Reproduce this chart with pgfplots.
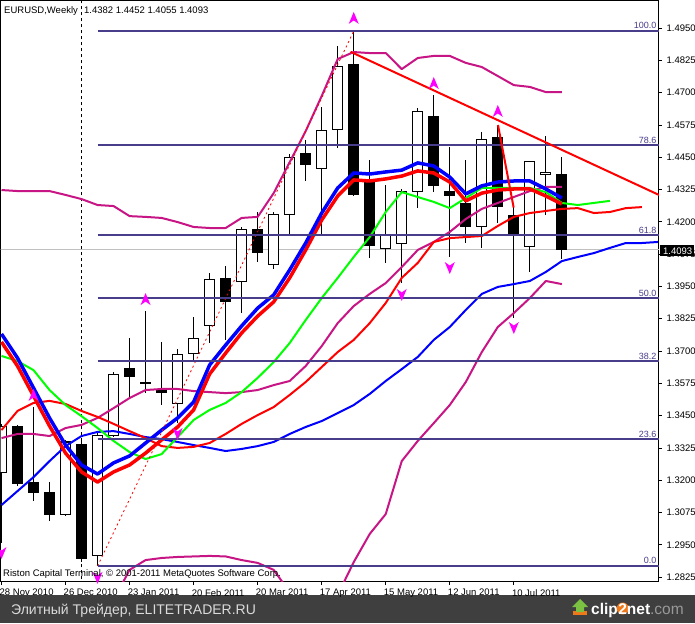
\documentclass[border=0pt]{standalone}
\usepackage{pgfplots}
\pgfplotsset{compat=1.18}
\usepackage{pgfplotstable}
\usepackage{fontspec}
\setmainfont{Liberation Sans}

\definecolor{fibo}{HTML}{483D8B}
\definecolor{band}{HTML}{C71585}
\definecolor{lips}{HTML}{00FF00}
\definecolor{fract}{HTML}{FF00FF}
\definecolor{strip}{HTML}{3F3F3F}
\definecolor{bidgray}{HTML}{C0C0C0}
\definecolor{logoorange}{HTML}{F07818}
\definecolor{logogreen}{HTML}{7CC242}

% fractal arrows
\pgfdeclareplotmark{frup}{%
  \pgfpathmoveto{\pgfpoint{0pt}{6pt}}%
  \pgfpathlineto{\pgfpoint{5pt}{-6pt}}%
  \pgfpathlineto{\pgfpoint{0pt}{-2.5pt}}%
  \pgfpathlineto{\pgfpoint{-5pt}{-6pt}}%
  \pgfpathclose\pgfusepathqfill}
\pgfdeclareplotmark{frdown}{%
  \pgfpathmoveto{\pgfpoint{0pt}{-6pt}}%
  \pgfpathlineto{\pgfpoint{5pt}{6pt}}%
  \pgfpathlineto{\pgfpoint{0pt}{2.5pt}}%
  \pgfpathlineto{\pgfpoint{-5pt}{6pt}}%
  \pgfpathclose\pgfusepathqfill}

% weekly bars, k = 0 is the week of 2 Jan 2011
\pgfplotstableread{
k O H L C
-5 1.3231 1.3418 1.2957 1.3407
-4 1.3407 1.3414 1.3178 1.3186
-3 1.3190 1.3484 1.3121 1.3152
-2 1.3154 1.3193 1.3043 1.3067
-1 1.3067 1.3356 1.3062 1.3348
0 1.3340 1.3363 1.2883 1.2896
1 1.2907 1.3390 1.2868 1.3375
2 1.3372 1.3619 1.3367 1.3611
3 1.3633 1.3752 1.3523 1.3601
4 1.3580 1.3855 1.3536 1.3573
5 1.3552 1.3734 1.3490 1.3539
6 1.3498 1.3708 1.3420 1.3685
7 1.3691 1.3832 1.3657 1.3747
8 1.3798 1.4002 1.3732 1.3978
9 1.3981 1.4028 1.3743 1.3891
10 1.3969 1.4181 1.3848 1.4171
11 1.4171 1.4239 1.4046 1.4080
12 1.4036 1.4239 1.4016 1.4229
13 1.4229 1.4461 1.4149 1.4450
14 1.4466 1.4517 1.4359 1.4423
15 1.4407 1.4643 1.4149 1.4554
16 1.4558 1.4880 1.4487 1.4802
17 1.4807 1.4938 1.4301 1.4305
18 1.4355 1.4439 1.4059 1.4108
19 1.4098 1.4342 1.4042 1.4152
20 1.4117 1.4327 1.3962 1.4319
21 1.4318 1.4639 1.4252 1.4628
22 1.4606 1.4691 1.4317 1.4340
23 1.4319 1.4491 1.4065 1.4301
24 1.4272 1.4439 1.4119 1.4181
25 1.4183 1.4549 1.4098 1.4519
26 1.4528 1.4575 1.4197 1.4259
27 1.4226 1.4259 1.3829 1.4149
28 1.4106 1.4435 1.4007 1.4433
29 1.4384 1.4532 1.4226 1.4392
30 1.4382 1.4452 1.4055 1.4093
}\candles

% indicator lines
\pgfplotstableread{
k bma rma lips teeth jaw mid up lo
-5 1.3766 1.3735 1.3681 1.3394 1.3104 1.3363 1.4323 nan
-4 1.3673 1.3642 1.3661 1.3468 1.3158 1.3379 1.4319 nan
-3 1.3557 1.3526 1.3626 1.3499 1.3212 1.3379 1.4319 nan
-2 1.3441 1.3410 1.3549 1.3507 1.3274 1.3371 1.4319 nan
-1 1.3336 1.3305 1.3491 1.3495 1.3332 1.3402 1.4304 nan
0 1.3259 1.3232 1.3448 1.3468 1.3371 1.3414 1.4288 nan
1 1.3224 1.3193 1.3402 1.3445 1.3387 1.3441 1.4265 nan
2 1.3267 1.3232 1.3352 1.3418 1.3390 1.3479 1.4261 1.2736
3 1.3294 1.3259 1.3309 1.3390 1.3379 1.3518 1.4222 1.2853
4 1.3344 1.3305 1.3282 1.3363 1.3367 1.3549 1.4219 1.2891
5 1.3394 1.3356 1.3301 1.3332 1.3359 1.3553 1.4215 1.2899
6 1.3441 1.3406 1.3367 1.3325 1.3348 1.3553 1.4199 1.2903
7 1.3503 1.3472 1.3433 1.3329 1.3336 1.3545 1.4180 1.2905
8 1.3646 1.3611 1.3472 1.3344 1.3325 1.3541 1.4176 1.2907
9 1.3723 1.3692 1.3499 1.3379 1.3313 1.3537 1.4176 1.2905
10 1.3797 1.3770 1.3541 1.3418 1.3321 1.3541 1.4215 1.2891
11 1.3866 1.3835 1.3596 1.3452 1.3332 1.3549 1.4219 1.2880
12 1.3917 1.3890 1.3657 1.3483 1.3348 1.3568 1.4311 1.2853
13 1.4014 1.3983 1.3731 1.3530 1.3379 1.3584 1.4431 1.2767
14 1.4118 1.4091 1.3820 1.3580 1.3406 1.3642 1.4551 1.2698
15 1.4234 1.4207 1.3905 1.3638 1.3429 1.3719 1.4687 1.2690
16 1.4331 1.4300 1.3983 1.3696 1.3460 1.3808 1.4830 1.2756
17 1.4389 1.4362 1.4064 1.3743 1.3491 1.3874 1.4857 1.2883
18 1.4385 1.4358 1.4141 1.3808 1.3534 1.3921 1.4853 1.2992
19 1.4393 1.4366 1.4238 1.3886 1.3584 1.3963 1.4853 1.3069
20 1.4400 1.4377 1.4315 1.3983 1.3630 1.4025 1.4791 1.3274
21 1.4428 1.4397 1.4296 1.4041 1.3677 1.4091 1.4834 1.3352
22 1.4416 1.4389 1.4277 1.4122 1.3743 1.4122 1.4842 1.3421
23 1.4373 1.4354 1.4253 1.4137 1.3793 1.4161 1.4842 1.3491
24 1.4308 1.4281 1.4292 1.4141 1.3859 1.4211 1.4815 1.3580
25 1.4339 1.4311 1.4331 1.4145 1.3921 1.4250 1.4799 1.3696
26 1.4354 1.4323 1.4331 1.4184 1.3948 1.4273 1.4764 1.3793
27 1.4358 1.4327 1.4331 1.4219 1.3959 1.4296 1.4729 1.3847
28 1.4358 1.4327 1.4331 1.4234 1.3971 1.4319 1.4722 1.3905
29 1.4327 1.4300 1.4315 1.4242 1.4006 1.4335 1.4702 1.3971
30 1.4292 1.4269 1.4273 1.4250 1.4048 1.4335 1.4702 1.3959
31 nan nan 1.4265 1.4253 1.4064 nan nan nan
32 nan nan 1.4273 1.4234 1.4079 nan nan nan
33 nan nan 1.4281 1.4238 1.4099 nan nan nan
34 nan nan nan 1.4253 1.4118 nan nan nan
35 nan nan nan 1.4257 1.4118 nan nan nan
36 nan nan nan nan 1.4122 nan nan nan
}\ind

\pgfplotstableread{
k y
-3 1.3530
4 1.3901
17 1.4989
22 1.4737
26 1.4629
}\fractup

\pgfplotstableread{
k y
-5 1.2918
1 1.2822
6 1.3379
20 1.3917
23 1.4021
27 1.3789
}\fractdown

\begin{document}
\begin{tikzpicture}
\path[use as bounding box] (0,0) rectangle (695pt,623pt);
\fill[white] (0,0) rectangle (695pt,623pt);
\fill[strip] (0,0) rectangle (695pt,28pt);

\begin{axis}[
    at={(0.5pt,41pt)}, anchor=south west,
    scale only axis,
    width=658pt, height=581.5pt,
    xmin=-5.0625, xmax=36.0625,
    ymin=1.28061, ymax=1.50565,
    axis line style={line width=1pt},
    tick align=outside,
    major tick length=3pt,
    tick style={black, line width=0.8pt},
    xtick={-5,-1,3,7,11,15,19,23,27},
    xticklabels={28 Nov 2010,26 Dec 2010,23 Jan 2011,20 Feb 2011,20 Mar 2011,17 Apr 2011,15 May 2011,12 Jun 2011,10 Jul 2011},
    xtick pos=bottom,
    ytick={1.2825,1.2950,1.3075,1.3200,1.3325,1.3450,1.3575,1.3700,1.3825,1.3950,1.4075,1.4200,1.4325,1.4450,1.4575,1.4700,1.4825,1.4950},
    yticklabels={1.2825,1.2950,1.3075,1.3200,1.3325,1.3450,1.3575,1.3700,1.3825,1.3950,1.4075,1.4200,1.4325,1.4450,1.4575,1.4700,1.4825,1.4950},
    ytick pos=right, yticklabel pos=right,
    ticklabel style={font=\fontsize{9.5}{11}\selectfont, inner sep=0pt},
    yticklabel style={anchor=west, xshift=4.5pt},
    xticklabel style={anchor=north west, xshift=-2pt, yshift=-4pt},
    clip=true,
]

% bid line and year separator
\addplot[bidgray, line width=1pt] coordinates {(-6,1.4093) (37,1.4093)};
\addplot[black, line width=1pt, dash pattern=on 3pt off 3pt] coordinates {(0,1.27) (0,1.51)};

% candles: wicks, bodies, white insides
\addplot[draw=none, mark=none, error bars/.cd, y dir=both, y explicit, error mark=none,
    error bar style={draw=black, line width=1pt}]
    table[x=k, y expr={(\thisrow{H}+\thisrow{L})/2}, y error expr={(\thisrow{H}-\thisrow{L})/2}] {\candles};
\addplot[draw=none, mark=none, error bars/.cd, y dir=both, y explicit, error mark=none,
    error bar style={draw=black, line width=11pt}]
    table[x=k, y expr={(\thisrow{O}+\thisrow{C})/2}, y error expr={abs(\thisrow{C}-\thisrow{O})/2+0.0002}] {\candles};
\addplot[draw=none, mark=none, error bars/.cd, y dir=both, y explicit, error mark=none,
    error bar style={draw=white, line width=9pt}]
    table[x=k, y expr={\thisrow{C}>\thisrow{O} ? (\thisrow{O}+\thisrow{C})/2 : 5},
          y error expr={max((\thisrow{C}-\thisrow{O})/2-0.0002,0.00005)}] {\candles};

% indicators
\addplot[band, line width=2pt, line join=round] table[x=k, y=lo] {\ind};
\addplot[band, line width=2pt, line join=round] table[x=k, y=up] {\ind};
\addplot[band, line width=2pt, line join=round] table[x=k, y=mid] {\ind};
\addplot[blue, line width=2pt, line join=round] table[x=k, y=jaw] {\ind};
\addplot[red, line width=2pt, line join=round] table[x=k, y=teeth] {\ind};
\addplot[lips, line width=2pt, line join=round] table[x=k, y=lips] {\ind};
\addplot[red, line width=3.5pt, line join=round] table[x=k, y=rma] {\ind};
\addplot[blue, line width=3.5pt, line join=round] table[x=k, y=bma] {\ind};

% fibonacci retracement
\addplot[red, line width=0.8pt, dash pattern=on 2pt off 3pt] coordinates {(1,1.2868) (17,1.4938)};
\addplot[fibo, line width=2pt] coordinates {(1,1.4940) (37,1.4940)};
\addplot[fibo, line width=2pt] coordinates {(1,1.4497) (37,1.4497)};
\addplot[fibo, line width=2pt] coordinates {(1,1.4149) (37,1.4149)};
\addplot[fibo, line width=2pt] coordinates {(1,1.3905) (37,1.3905)};
\addplot[fibo, line width=2pt] coordinates {(1,1.3660) (37,1.3660)};
\addplot[fibo, line width=2pt] coordinates {(1,1.3358) (37,1.3358)};
\addplot[fibo, line width=2pt] coordinates {(1,1.2869) (37,1.2869)};

% trend line and zigzag leg
\addplot[red, line width=2pt] coordinates {(16.8,1.4858) (36.1,1.4303)};
\addplot[red, line width=2pt] coordinates {(26.01,1.4575) (26.99,1.4255)};

% fractals
\addplot[only marks, mark=frup, fract, mark size=6pt] table[x=k, y=y] {\fractup};
\addplot[only marks, mark=frdown, fract, mark size=6pt] table[x=k, y=y] {\fractdown};

\end{axis}

% fibo level captions
\begin{scope}[every node/.style={inner sep=0pt, text=fibo, font=\fontsize{9}{10}\selectfont, anchor=base east}]
\node at (656.5pt,594.5pt) {100.0};
\node at (656.5pt,479.5pt) {78.6};
\node at (656.5pt,389.5pt) {61.8};
\node at (656.5pt,326.5pt) {50.0};
\node at (656.5pt,263.5pt) {38.2};
\node at (656.5pt,185.5pt) {23.6};
\node at (656.5pt,59.5pt) {0.0};
\end{scope}

% bid price box
\fill[black] (659.5pt,367pt) rectangle (694pt,377.5pt);
\node[anchor=west, inner sep=0pt, text=white, font=\fontsize{9.5}{11}\selectfont] at (663pt,372pt) {1.4093};

% captions
\node[anchor=base west, inner sep=0pt, font=\fontsize{9.5}{11}\selectfont] at (4pt,609.5pt) {EURUSD,Weekly};
\node[anchor=base west, inner sep=0pt, font=\fontsize{9.5}{11}\selectfont] at (84pt,609.5pt) {1.4382 1.4452 1.4055 1.4093};
\node[anchor=base west, inner sep=0pt, font=\fontsize{9.5}{11}\selectfont] at (3pt,46pt) {Riston Capital Terminal, © 2001-2011 MetaQuotes Software Corp.};

% footer strip
\node[anchor=base west, inner sep=0pt, text=white!86!black, font=\fontsize{14}{16}\selectfont] at (11pt,9pt) {Элитный Трейдер, ELITETRADER.RU};
\fill[logoorange] (573pt,8pt) rectangle (587pt,12pt);
\fill[logogreen] (580pt,24pt) -- (588pt,16pt) -- (584pt,16pt) -- (584pt,11pt) -- (576pt,11pt) -- (576pt,16pt) -- (572pt,16pt) -- cycle;
\node[anchor=base west, inner sep=0pt, text=white, font=\bfseries\fontsize{15.5}{17}\selectfont] (clip) at (591pt,9pt) {clip};
\fill[logoorange] ([xshift=4.6pt,yshift=5.5pt]clip.base east) circle (6pt);
\node[anchor=base west, inner sep=0pt, font=\bfseries\fontsize{15.5}{17}\selectfont] at ([xshift=0pt]clip.base east) {\textcolor{white}{2net}\textcolor{white!60!black}{\mdseries.com}};
\end{tikzpicture}
\end{document}
